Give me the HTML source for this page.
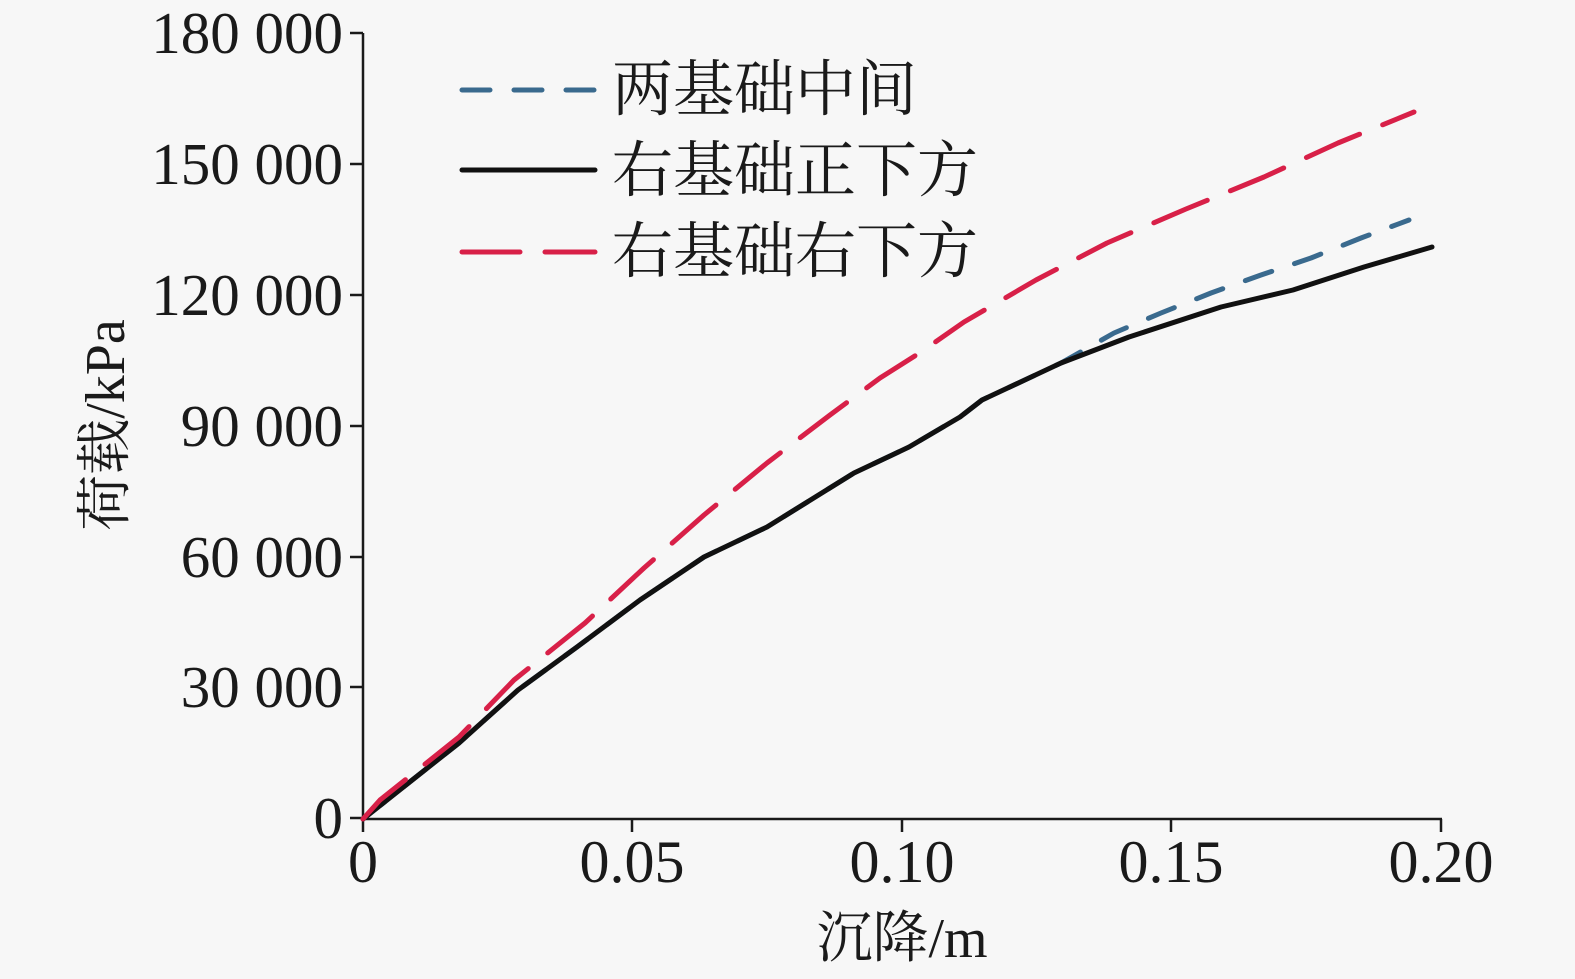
<!DOCTYPE html>
<html><head><meta charset="utf-8"><style>
html,body{margin:0;padding:0;background:#f7f7f7;}
svg{display:block;}
text{font-family:"Liberation Serif","Noto Serif CJK SC",serif;fill:#1a1a1a;}
</style></head><body>
<svg width="1575" height="979" viewBox="0 0 1575 979">
<g stroke="#1a1a1a" stroke-width="2.5" fill="none">
<line x1="363" y1="33" x2="363" y2="819"/>
<line x1="362" y1="819" x2="1442" y2="819"/>
<line x1="350" y1="33" x2="363" y2="33"/>
<line x1="350" y1="164" x2="363" y2="164"/>
<line x1="350" y1="295" x2="363" y2="295"/>
<line x1="350" y1="426" x2="363" y2="426"/>
<line x1="350" y1="557" x2="363" y2="557"/>
<line x1="350" y1="687" x2="363" y2="687"/>
<line x1="350" y1="818" x2="363" y2="818"/>
<line x1="363" y1="819" x2="363" y2="832"/>
<line x1="632" y1="819" x2="632" y2="832"/>
<line x1="902" y1="819" x2="902" y2="832"/>
<line x1="1171" y1="819" x2="1171" y2="832"/>
<line x1="1441" y1="819" x2="1441" y2="832"/>
</g>
<g font-size="59" text-anchor="end">
<text x="343" y="53">180 000</text>
<text x="343" y="184">150 000</text>
<text x="343" y="315">120 000</text>
<text x="343" y="446">90 000</text>
<text x="343" y="577">60 000</text>
<text x="343" y="707">30 000</text>
<text x="343" y="838">0</text>
</g>
<g font-size="60" text-anchor="middle">
<text x="363" y="882">0</text>
<text x="632" y="882">0.05</text>
<text x="902" y="882">0.10</text>
<text x="1171" y="882">0.15</text>
<text x="1441" y="882">0.20</text>
<text x="902" y="957" font-size="56">沉降/m</text>
<text transform="translate(124,425) rotate(-90)" font-size="56">荷载/kPa</text>
</g>
<g fill="none" stroke-width="5" stroke-linecap="round" stroke-linejoin="round">
<polyline stroke="#3a6a8e" stroke-dasharray="28 24" points="363,819 459,743 518,690 577,647 640,600 704,557 767,527 854,473 909,447 960,417 982,400 1061,363 1114,333 1161,313 1211,293 1261,275 1311,258 1361,238 1409,220"/>
<polyline stroke="#111" points="363,819 459,743 518,690 577,647 640,600 704,557 767,527 854,473 909,447 960,417 982,400 1061,363 1129,337 1221,307 1293,290 1364,267 1432,247"/>
<polyline stroke="#d82048" stroke-dasharray="58 25" points="363,819 380,800 459,737 514,680 585,623 644,568 704,515 767,463 830,415 880,378 921,352 964,322 1036,280 1107,243 1186,209 1264,177 1338,143 1414,112"/>
<line x1="462" y1="90" x2="595" y2="90" stroke="#3a6a8e" stroke-dasharray="28 24"/>
<line x1="462" y1="170" x2="595" y2="170" stroke="#111"/>
<line x1="462" y1="252" x2="595" y2="252" stroke="#d82048" stroke-dasharray="58 25"/>
</g>
<g font-size="61">
<text x="612" y="110">两基础中间</text>
<text x="612" y="191">右基础正下方</text>
<text x="612" y="272">右基础右下方</text>
</g>
</svg>
</body></html>
